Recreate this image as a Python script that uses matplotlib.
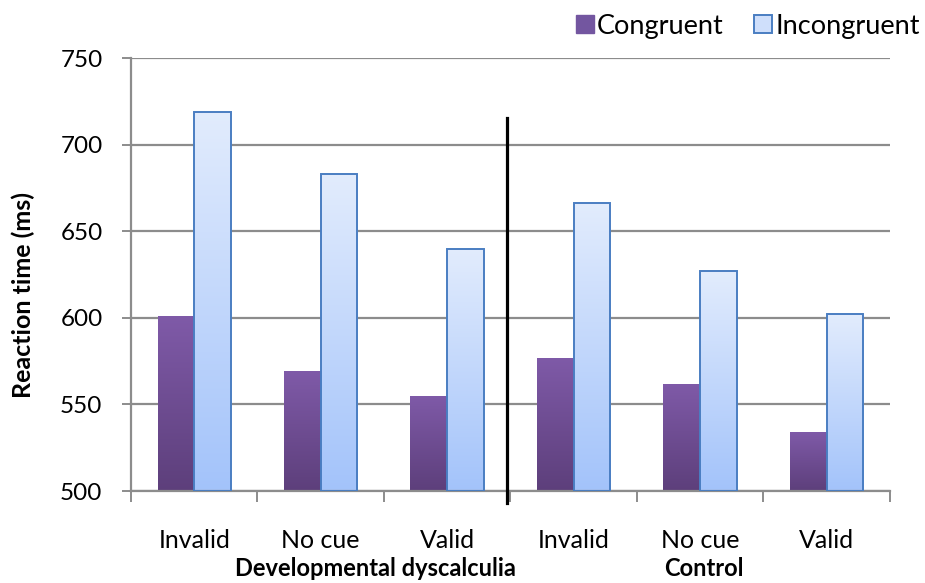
import numpy as np
import matplotlib.pyplot as plt
from matplotlib.patches import Patch
from matplotlib.colors import LinearSegmentedColormap

plt.rcParams['font.family'] = ['Lato', 'DejaVu Sans']

conditions = ['Invalid', 'No cue', 'Valid', 'Invalid', 'No cue', 'Valid']
groups = ['Developmental dyscalculia', 'Control']
congruent = [601, 569, 555, 577, 562, 534]
incongruent = [719, 683, 640, 666, 627, 602]

grid_color = '#8c8c8c'
purple_cmap = LinearSegmentedColormap.from_list('pur', ['#5d3f7b', '#7f5aa8'])
blue_cmap = LinearSegmentedColormap.from_list('blu', ['#a3c3fa', '#e2ecfd'])

fig = plt.figure(figsize=(9.25, 5.83), dpi=100)
ax = fig.add_axes([0.1416, 0.1578, 0.8204, 0.7427])

x = np.arange(len(conditions)) + 0.5
w = 0.29
ymin, ymax = 500, 750

def gradient_bars(bars, cmap, edge):
    grad = np.linspace(0, 1, 256).reshape(-1, 1)
    for b in bars:
        bx, by = b.get_x(), b.get_y()
        bw, bh = b.get_width(), b.get_height()
        im = ax.imshow(grad, cmap=cmap, origin='lower', aspect='auto',
                       extent=[bx, bx + bw, by, by + bh], zorder=2)
        im.set_clip_path(b)
        b.set_facecolor('none')
        b.set_edgecolor(edge)

bars_c = ax.bar(x - w / 2, np.array(congruent) - ymin, w, bottom=ymin,
                linewidth=0, zorder=3)
bars_i = ax.bar(x + w / 2, np.array(incongruent) - ymin, w, bottom=ymin,
                linewidth=1.4, zorder=3)
gradient_bars(bars_c, purple_cmap, 'none')
gradient_bars(bars_i, blue_cmap, '#4a7ec2')

ax.set_xlim(0, 6)
ax.set_ylim(ymin, ymax)
ax.set_yticks(np.arange(500, 751, 50))
ax.yaxis.grid(True, color=grid_color, linewidth=1.6)
ax.set_axisbelow(True)

for s in ['top', 'right']:
    ax.spines[s].set_visible(False)
for s in ['left', 'bottom']:
    ax.spines[s].set_color(grid_color)
    ax.spines[s].set_linewidth(1.6)

ax.set_xticks(np.arange(0, 7))
ax.set_xticklabels([])
ax.set_xticks(x, minor=True)
ax.set_xticklabels(conditions, minor=True, fontsize=18)
ax.tick_params(axis='x', which='major', length=8, width=1.4, color=grid_color)
ax.tick_params(axis='x', which='minor', length=0, pad=27)
ax.tick_params(axis='y', length=6.5, width=1.4, color=grid_color,
               labelsize=17.5, pad=14)

fig.text(23 / 925, 0.494, 'Reaction time (ms)', rotation=90, ha='center',
         va='center', fontsize=18, fontweight='bold')

# group labels under the categories
ax.text(1.93, -0.18, groups[0], transform=ax.get_xaxis_transform(),
        ha='center', va='center', fontsize=17, fontweight='bold')
ax.text(4.53, -0.18, groups[1], transform=ax.get_xaxis_transform(),
        ha='center', va='center', fontsize=17, fontweight='bold')

# divider between the two groups
ax.plot([2.97, 2.97], [493, 715.5], color='black', linewidth=2.3,
        clip_on=False, zorder=5)

handles = [Patch(facecolor='#7356a0', edgecolor='#7356a0', label='Congruent'),
           Patch(facecolor='#cfdffb', edgecolor='#4a7ec2', linewidth=1.4,
                 label='Incongruent')]
fig.legend(handles=handles, loc='upper right', bbox_to_anchor=(1.0, 0.986),
           ncol=2, frameon=False, fontsize=19.5, handlelength=0.67,
           handleheight=0.63, handletextpad=0.12, columnspacing=1.1,
           borderpad=0.2, borderaxespad=0.0)

fig.savefig('out.png', dpi=100)
